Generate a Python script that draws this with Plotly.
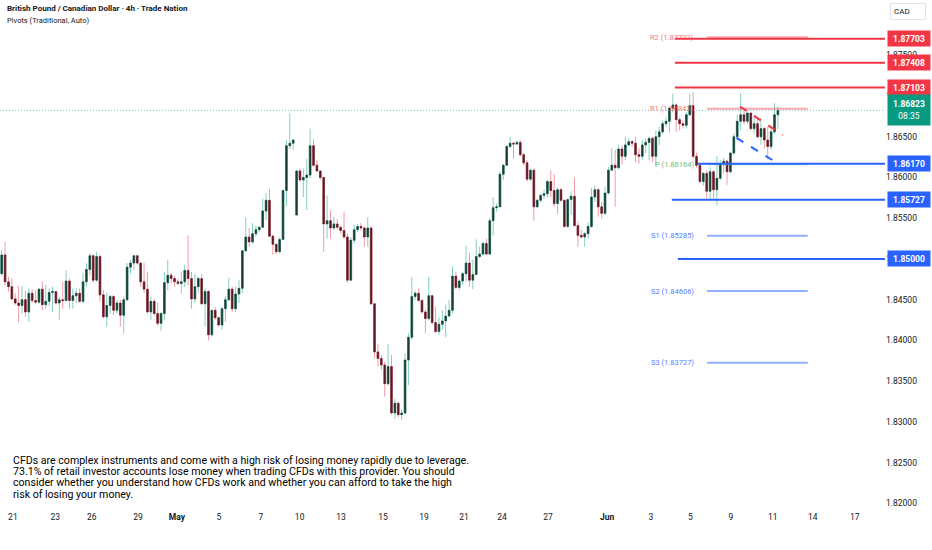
import plotly.graph_objects as go

# GBPCAD 4h candles (oldest first)
opens = [
    1.8482, 1.8505, 1.8472, 1.8466, 1.8451, 1.8446, 1.8443, 1.8450, 1.8435, 1.8458,
    1.8449, 1.8447, 1.8463, 1.8444, 1.8448, 1.8459, 1.8460, 1.8446, 1.8450, 1.8449,
    1.8473, 1.8449, 1.8455, 1.8458, 1.8448, 1.8472, 1.8487, 1.8504, 1.8474, 1.8503,
    1.8456, 1.8429, 1.8443, 1.8454, 1.8437, 1.8446, 1.8431, 1.8450, 1.8490, 1.8495,
    1.8504, 1.8495, 1.8472, 1.8463, 1.8435, 1.8448, 1.8433, 1.8421, 1.8433, 1.8471,
    1.8480, 1.8476, 1.8472, 1.8470, 1.8472, 1.8486, 1.8476, 1.8451, 1.8466, 1.8476,
    1.8445, 1.8460, 1.8407, 1.8437, 1.8428, 1.8419, 1.8439, 1.8450, 1.8463, 1.8439,
    1.8457, 1.8464, 1.8510, 1.8527, 1.8521, 1.8531, 1.8536, 1.8539, 1.8559, 1.8572,
    1.8528, 1.8518, 1.8509, 1.8524, 1.8584, 1.8639, 1.8642, 1.8554, 1.8608, 1.8597,
    1.8600, 1.8603, 1.8639, 1.8615, 1.8608, 1.8600, 1.8543, 1.8547, 1.8538, 1.8543,
    1.8539, 1.8535, 1.8527, 1.8474, 1.8523, 1.8536, 1.8540, 1.8538, 1.8527, 1.8538,
    1.8445, 1.8386, 1.8378, 1.8370, 1.8347, 1.8368, 1.8311, 1.8323, 1.8309, 1.8311,
    1.8376, 1.8404, 1.8454, 1.8458, 1.8449, 1.8435, 1.8427, 1.8455, 1.8422, 1.8411,
    1.8420, 1.8424, 1.8430, 1.8437, 1.8479, 1.8465, 1.8473, 1.8482, 1.8495, 1.8474,
    1.8481, 1.8503, 1.8506, 1.8519, 1.8506, 1.8547, 1.8563, 1.8564, 1.8604, 1.8615,
    1.8638, 1.8642, 1.8641, 1.8643, 1.8628, 1.8618, 1.8598, 1.8609, 1.8564, 1.8572,
    1.8578, 1.8580, 1.8595, 1.8584, 1.8568, 1.8585, 1.8572, 1.8540, 1.8573, 1.8577,
    1.8541, 1.8529, 1.8527, 1.8531, 1.8540, 1.8576, 1.8585, 1.8564, 1.8556, 1.8581,
    1.8609, 1.8615, 1.8612, 1.8635, 1.8626, 1.8640, 1.8644, 1.8642, 1.8628, 1.8626,
    1.8640, 1.8643, 1.8648, 1.8626, 1.8650, 1.8656, 1.8666, 1.8669, 1.8685, 1.8689,
    1.8671, 1.8666, 1.8664, 1.8677, 1.8688, 1.8626, 1.8615, 1.8595, 1.8605, 1.8583,
    1.8607, 1.8585, 1.8599, 1.8617, 1.8620, 1.8607, 1.8630, 1.8650, 1.8669, 1.8677,
    1.8669, 1.8679, 1.8660, 1.8666, 1.8650, 1.8660, 1.8646, 1.8638, 1.8656, 1.8677,
]
highs = [
    1.8511, 1.8521, 1.8478, 1.8476, 1.8458, 1.8467, 1.8467, 1.8461, 1.8464, 1.8463,
    1.8462, 1.8464, 1.8472, 1.8468, 1.8464, 1.8466, 1.8460, 1.8454, 1.8472, 1.8486,
    1.8476, 1.8464, 1.8464, 1.8464, 1.8483, 1.8495, 1.8507, 1.8506, 1.8509, 1.8505,
    1.8462, 1.8459, 1.8456, 1.8456, 1.8450, 1.8450, 1.8454, 1.8495, 1.8499, 1.8505,
    1.8505, 1.8495, 1.8495, 1.8484, 1.8454, 1.8451, 1.8446, 1.8435, 1.8484, 1.8499,
    1.8483, 1.8479, 1.8476, 1.8484, 1.8493, 1.8529, 1.8484, 1.8482, 1.8478, 1.8482,
    1.8464, 1.8462, 1.8437, 1.8441, 1.8429, 1.8441, 1.8454, 1.8477, 1.8466, 1.8466,
    1.8474, 1.8511, 1.8551, 1.8538, 1.8544, 1.8541, 1.8540, 1.8574, 1.8581, 1.8586,
    1.8530, 1.8519, 1.8527, 1.8585, 1.8646, 1.8679, 1.8647, 1.8609, 1.8611, 1.8611,
    1.8623, 1.8660, 1.8647, 1.8621, 1.8608, 1.8600, 1.8578, 1.8560, 1.8552, 1.8549,
    1.8540, 1.8558, 1.8531, 1.8527, 1.8542, 1.8543, 1.8544, 1.8540, 1.8551, 1.8540,
    1.8446, 1.8396, 1.8382, 1.8374, 1.8396, 1.8382, 1.8328, 1.8325, 1.8315, 1.8384,
    1.8409, 1.8478, 1.8461, 1.8464, 1.8451, 1.8438, 1.8478, 1.8456, 1.8442, 1.8429,
    1.8437, 1.8444, 1.8450, 1.8491, 1.8484, 1.8475, 1.8484, 1.8516, 1.8508, 1.8499,
    1.8524, 1.8515, 1.8521, 1.8525, 1.8550, 1.8576, 1.8568, 1.8607, 1.8617, 1.8640,
    1.8650, 1.8644, 1.8645, 1.8646, 1.8630, 1.8621, 1.8611, 1.8611, 1.8574, 1.8581,
    1.8585, 1.8597, 1.8609, 1.8604, 1.8588, 1.8587, 1.8573, 1.8574, 1.8583, 1.8600,
    1.8546, 1.8536, 1.8533, 1.8545, 1.8587, 1.8590, 1.8587, 1.8570, 1.8589, 1.8613,
    1.8636, 1.8634, 1.8640, 1.8639, 1.8650, 1.8648, 1.8646, 1.8650, 1.8636, 1.8646,
    1.8648, 1.8650, 1.8650, 1.8658, 1.8662, 1.8670, 1.8674, 1.8687, 1.8703, 1.8691,
    1.8674, 1.8670, 1.8680, 1.8703, 1.8705, 1.8630, 1.8618, 1.8607, 1.8609, 1.8613,
    1.8609, 1.8626, 1.8622, 1.8624, 1.8622, 1.8632, 1.8654, 1.8677, 1.8703, 1.8685,
    1.8681, 1.8680, 1.8677, 1.8673, 1.8673, 1.8662, 1.8662, 1.8662, 1.8691, 1.8687,
]
lows = [
    1.8480, 1.8468, 1.8460, 1.8450, 1.8444, 1.8422, 1.8433, 1.8429, 1.8423, 1.8446,
    1.8445, 1.8445, 1.8437, 1.8439, 1.8442, 1.8435, 1.8444, 1.8425, 1.8439, 1.8448,
    1.8439, 1.8439, 1.8446, 1.8446, 1.8446, 1.8466, 1.8480, 1.8471, 1.8472, 1.8448,
    1.8427, 1.8417, 1.8433, 1.8431, 1.8433, 1.8417, 1.8409, 1.8448, 1.8482, 1.8486,
    1.8493, 1.8466, 1.8458, 1.8433, 1.8425, 1.8431, 1.8418, 1.8412, 1.8425, 1.8462,
    1.8470, 1.8466, 1.8468, 1.8458, 1.8466, 1.8468, 1.8439, 1.8446, 1.8458, 1.8444,
    1.8417, 1.8400, 1.8405, 1.8425, 1.8417, 1.8413, 1.8423, 1.8448, 1.8435, 1.8435,
    1.8446, 1.8458, 1.8509, 1.8515, 1.8519, 1.8527, 1.8533, 1.8538, 1.8548, 1.8527,
    1.8505, 1.8506, 1.8507, 1.8523, 1.8565, 1.8635, 1.8634, 1.8553, 1.8595, 1.8576,
    1.8560, 1.8599, 1.8613, 1.8607, 1.8597, 1.8509, 1.8525, 1.8525, 1.8535, 1.8536,
    1.8531, 1.8525, 1.8471, 1.8474, 1.8519, 1.8533, 1.8535, 1.8515, 1.8515, 1.8444,
    1.8378, 1.8368, 1.8364, 1.8331, 1.8345, 1.8309, 1.8304, 1.8306, 1.8302, 1.8309,
    1.8345, 1.8401, 1.8450, 1.8448, 1.8433, 1.8409, 1.8425, 1.8420, 1.8409, 1.8407,
    1.8413, 1.8404, 1.8428, 1.8433, 1.8463, 1.8462, 1.8468, 1.8472, 1.8466, 1.8463,
    1.8480, 1.8501, 1.8504, 1.8505, 1.8505, 1.8529, 1.8558, 1.8564, 1.8597, 1.8614,
    1.8636, 1.8623, 1.8640, 1.8626, 1.8615, 1.8595, 1.8596, 1.8547, 1.8563, 1.8570,
    1.8574, 1.8576, 1.8576, 1.8564, 1.8555, 1.8570, 1.8538, 1.8538, 1.8554, 1.8540,
    1.8515, 1.8525, 1.8515, 1.8525, 1.8538, 1.8570, 1.8552, 1.8550, 1.8554, 1.8579,
    1.8609, 1.8564, 1.8610, 1.8616, 1.8621, 1.8638, 1.8638, 1.8619, 1.8617, 1.8621,
    1.8630, 1.8621, 1.8619, 1.8615, 1.8640, 1.8654, 1.8662, 1.8655, 1.8680, 1.8656,
    1.8658, 1.8660, 1.8660, 1.8675, 1.8623, 1.8612, 1.8593, 1.8590, 1.8574, 1.8574,
    1.8574, 1.8566, 1.8597, 1.8605, 1.8591, 1.8605, 1.8628, 1.8646, 1.8658, 1.8665,
    1.8666, 1.8658, 1.8654, 1.8648, 1.8640, 1.8636, 1.8622, 1.8634, 1.8654, 1.8660,
]
closes = [
    1.8505, 1.8472, 1.8466, 1.8451, 1.8446, 1.8443, 1.8450, 1.8435, 1.8458, 1.8449,
    1.8447, 1.8463, 1.8444, 1.8448, 1.8459, 1.8460, 1.8446, 1.8450, 1.8449, 1.8473,
    1.8449, 1.8455, 1.8458, 1.8448, 1.8472, 1.8487, 1.8504, 1.8474, 1.8503, 1.8456,
    1.8429, 1.8443, 1.8454, 1.8437, 1.8446, 1.8431, 1.8450, 1.8490, 1.8495, 1.8504,
    1.8495, 1.8472, 1.8463, 1.8435, 1.8448, 1.8433, 1.8421, 1.8433, 1.8471, 1.8480,
    1.8476, 1.8472, 1.8470, 1.8472, 1.8486, 1.8476, 1.8451, 1.8466, 1.8476, 1.8445,
    1.8460, 1.8407, 1.8437, 1.8428, 1.8419, 1.8439, 1.8450, 1.8463, 1.8439, 1.8457,
    1.8464, 1.8510, 1.8527, 1.8521, 1.8531, 1.8536, 1.8539, 1.8559, 1.8572, 1.8528,
    1.8518, 1.8509, 1.8524, 1.8584, 1.8639, 1.8642, 1.8646, 1.8608, 1.8597, 1.8600,
    1.8603, 1.8639, 1.8615, 1.8608, 1.8600, 1.8543, 1.8547, 1.8538, 1.8543, 1.8539,
    1.8535, 1.8527, 1.8474, 1.8523, 1.8536, 1.8540, 1.8538, 1.8527, 1.8538, 1.8445,
    1.8386, 1.8378, 1.8370, 1.8347, 1.8368, 1.8311, 1.8323, 1.8309, 1.8311, 1.8376,
    1.8404, 1.8454, 1.8458, 1.8449, 1.8435, 1.8427, 1.8455, 1.8422, 1.8411, 1.8420,
    1.8424, 1.8430, 1.8437, 1.8479, 1.8465, 1.8473, 1.8482, 1.8495, 1.8474, 1.8481,
    1.8503, 1.8506, 1.8519, 1.8506, 1.8547, 1.8563, 1.8564, 1.8604, 1.8615, 1.8638,
    1.8642, 1.8641, 1.8643, 1.8628, 1.8618, 1.8598, 1.8609, 1.8564, 1.8572, 1.8578,
    1.8580, 1.8595, 1.8584, 1.8568, 1.8585, 1.8572, 1.8540, 1.8573, 1.8577, 1.8541,
    1.8529, 1.8527, 1.8531, 1.8540, 1.8576, 1.8585, 1.8564, 1.8556, 1.8581, 1.8609,
    1.8615, 1.8612, 1.8635, 1.8626, 1.8640, 1.8644, 1.8642, 1.8628, 1.8626, 1.8640,
    1.8643, 1.8648, 1.8626, 1.8650, 1.8656, 1.8666, 1.8669, 1.8685, 1.8689, 1.8671,
    1.8666, 1.8664, 1.8677, 1.8688, 1.8626, 1.8615, 1.8595, 1.8605, 1.8583, 1.8607,
    1.8585, 1.8599, 1.8617, 1.8620, 1.8607, 1.8630, 1.8650, 1.8669, 1.8677, 1.8669,
    1.8679, 1.8660, 1.8666, 1.8650, 1.8660, 1.8646, 1.8638, 1.8656, 1.8677, 1.86823,
]

# time axis labels and the bar they sit on
tick_labels = ["21", "23", "26", "29", "<b>May</b>", "5", "7", "10", "13", "15", "19",
               "21", "24", "27", "<b>Jun</b>", "3", "5", "9", "11", "14", "17"]
tick_bars = [3.3, 15.8, 26.6, 40.2, 51.7, 64.1, 76.5, 87.9, 100.1, 112.5, 124.6,
             136.4, 147.6, 161.2, 178.6, 191.5, 203.2, 215.1, 227.5, 239.3, 251.7]

# price axis labels
price_ticks = [1.820, 1.825, 1.830, 1.835, 1.840, 1.845, 1.850, 1.855,
               1.860, 1.865, 1.870, 1.875]

# drawn horizontal levels
red_levels = [1.87703, 1.87408, 1.87103]
blue_levels = [1.86170, 1.85727, 1.85000]
red_starts = [198.6, 198.6, 198.6]
blue_starts = [205.1, 197.7, 199.5]

# traditional pivots
pivot_names = ["R2", "R1", "P", "S1", "S2", "S3"]
pivot_values = [1.87722, 1.86843, 1.86164, 1.85285, 1.84606, 1.83727]
pivot_colors = ["#f7525f", "#f7525f", "#4caf50", "#2962ff", "#2962ff", "#2962ff"]

# flag trendlines (bar, price)
red_trend = [(217.8, 1.86871), (230.5, 1.86521)]
blue_trend = [(216.8, 1.86485), (228.8, 1.86178)]

disclaimer = [
    "CFDs are complex instruments and come with a high risk of losing money rapidly due to leverage.",
    "73.1% of retail investor accounts lose money when trading CFDs with this provider. You should",
    "consider whether you understand how CFDs work and whether you can afford to take the high",
    "risk of losing your money.",
]

X_MAX = 260.6
FONT = "Roboto"

bars = list(range(len(closes)))
body_top = [max(o, c) for o, c in zip(opens, closes)]
body_bot = [min(o, c) for o, c in zip(opens, closes)]

fig = go.Figure()

# wicks (light colours)
fig.add_trace(go.Candlestick(
    x=bars, open=opens, high=highs, low=lows, close=closes,
    increasing=dict(line=dict(color="#86cfbf", width=1), fillcolor="#86cfbf"),
    decreasing=dict(line=dict(color="#f29ba5", width=1), fillcolor="#f29ba5"),
    hoverinfo="skip",
))
# bodies (dark colours)
fig.add_trace(go.Candlestick(
    x=bars, open=opens, high=body_top, low=body_bot, close=closes,
    increasing=dict(line=dict(color="#173f35", width=0.5), fillcolor="#173f35"),
    decreasing=dict(line=dict(color="#5a1a24", width=0.5), fillcolor="#5a1a24"),
    hoverinfo="skip",
))

shapes = []
annotations = []

# last price dotted line
shapes.append(dict(type="line", xref="paper", yref="y", x0=0, x1=1,
                   y0=closes[-1], y1=closes[-1],
                   line=dict(color="rgba(8,153,129,0.5)", width=1, dash="1px,2px")))

# pivot lines and labels
for name, val, col in zip(pivot_names, pivot_values, pivot_colors):
    shapes.append(dict(type="line", xref="x", yref="y", x0=208.1, x1=237.8, y0=val, y1=val,
                       line=dict(color=col, width=2), opacity=0.5))
    annotations.append(dict(x=204.8, y=val, xref="x", yref="y", xanchor="right", yanchor="middle",
                            text=f"{name} ({val:.5f})", showarrow=False,
                            font=dict(family=FONT, size=7.5, color=col), opacity=0.8))

# thick drawn levels
for val, x0 in zip(red_levels, red_starts):
    shapes.append(dict(type="line", xref="x", yref="y", x0=x0, x1=X_MAX, y0=val, y1=val,
                       line=dict(color="#f23645", width=2)))
for val, x0 in zip(blue_levels, blue_starts):
    shapes.append(dict(type="line", xref="x", yref="y", x0=x0, x1=X_MAX, y0=val, y1=val,
                       line=dict(color="#2962ff", width=2)))

# dashed flag lines
for pts, col in [(red_trend, "#f23645"), (blue_trend, "#2962ff")]:
    shapes.append(dict(type="line", xref="x", yref="y", x0=pts[0][0], y0=pts[0][1],
                       x1=pts[1][0], y1=pts[1][1], line=dict(color=col, width=2, dash="8px,9px")))

# price-axis labels
def axis_label(val, bg, text=None, height=13):
    annotations.append(dict(x=1.002, y=val, xref="paper", yref="y", xanchor="left", yanchor="middle",
                            text=text or f"<b>{val:.5f}</b>", showarrow=False, bgcolor=bg,
                            width=40, height=height, align="center", borderpad=1,
                            font=dict(family=FONT, size=8.5, color="white")))

for val in red_levels:
    axis_label(val, "#f23645")
for val in blue_levels:
    axis_label(val, "#2962ff")
axis_label(closes[-1], "#089981", f"<b>{closes[-1]:.5f}</b><br>08:35", height=28)

def px_x(p):
    return p / 885

def px_y(p):
    return 1 - p / 510

annotations += [
    dict(x=px_x(5), y=px_y(2), xref="paper", yref="paper", xanchor="left", yanchor="top",
         text="<b>British Pound / Canadian Dollar · 4h · Trade Nation</b>", showarrow=False,
         font=dict(family=FONT, size=8, color="#131722")),
    dict(x=px_x(5), y=px_y(14), xref="paper", yref="paper", xanchor="left", yanchor="top",
         text="Pivots (Traditional, Auto)", showarrow=False,
         font=dict(family=FONT, size=7.5, color="#131722")),
    dict(x=px_x(890), y=px_y(3), xref="paper", yref="paper", xanchor="left", yanchor="top",
         text="CAD", showarrow=False, bordercolor="#e0e3eb", borderwidth=1, borderpad=3,
         width=28, align="left", font=dict(family=FONT, size=8, color="#131722")),
]
for k, line in enumerate(disclaimer):
    annotations.append(dict(x=px_x(11), y=px_y(460 + 11.4 * k), xref="paper", yref="paper",
                            xanchor="left", yanchor="middle", align="left", showarrow=False,
                            text=line, font=dict(family=FONT, size=10.6, color="#000000")))

fig.update_layout(
    width=932, height=550,
    margin=dict(l=0, r=47, t=0, b=40),
    paper_bgcolor="white", plot_bgcolor="white",
    showlegend=False, hovermode=False,
    shapes=shapes, annotations=annotations,
    xaxis=dict(range=[-0.5, X_MAX], rangeslider=dict(visible=False), showgrid=False,
               zeroline=False, showline=False, ticks="", tickvals=tick_bars, ticktext=tick_labels,
               automargin=False,
               tickfont=dict(family=FONT, size=8.5, color="#131722")),
    yaxis=dict(side="right", range=[1.8192, 1.88178], tickvals=price_ticks, tickformat=".5f",
               showgrid=False, zeroline=False, showline=False, ticks="", automargin=False,
               tickfont=dict(family=FONT, size=8.5, color="#131722")),
)

# drop the page's default body margin so the figure sits at the window corner
fig.write_html("out.html", config={"displayModeBar": False},
               post_script="document.body.style.margin='0';")
